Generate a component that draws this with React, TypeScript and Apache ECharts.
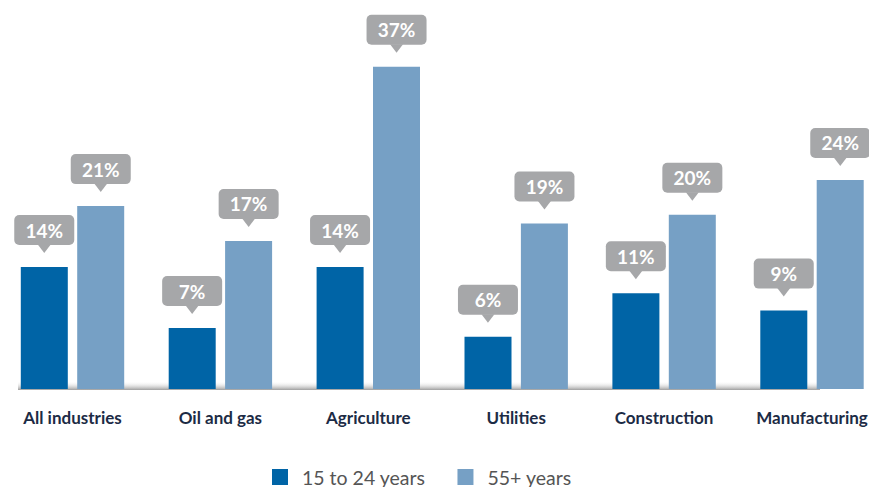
import React, { useEffect, useRef } from "react";
import * as echarts from "echarts";

const categories = ["All industries", "Oil and gas", "Agriculture", "Utilities", "Construction", "Manufacturing"];
const youngValues = [14, 7, 14, 6, 11, 9];
const olderValues = [21, 17, 37, 19, 20, 24];
const seriesNames = ["15 to 24 years", "55+ years"];

const DARK = "#0064A6";
const LIGHT = "#76A0C5";
const BUBBLE = "#A6A7A9";
const BAR_W = 47;
const OFFSET = 28.25;

function bubbleRenderer(offset: number) {
  return (params: any, api: any) => {
    const idx = api.value(0);
    const val = api.value(1);
    const p = api.coord([idx, val]);
    const cx = p[0] + offset;
    const tip = p[1] - 14;
    const baseY = tip - 8;
    const rw = 60;
    const rh = 30;
    return {
      type: "group",
      children: [
        {
          type: "rect",
          shape: { x: cx - rw / 2, y: baseY - rh, width: rw, height: rh, r: 5 },
          style: { fill: BUBBLE },
        },
        {
          type: "polygon",
          shape: { points: [[cx - 6.5, baseY - 0.5], [cx + 6.5, baseY - 0.5], [cx, tip]] },
          style: { fill: BUBBLE },
        },
        {
          type: "text",
          style: {
            text: val + "%",
            x: cx,
            y: baseY - rh / 2,
            align: "center",
            verticalAlign: "middle",
            fill: "#ffffff",
            font: "bold 19px Lato",
          },
        },
      ],
    };
  };
}

export default function App() {
  const ref = useRef<HTMLDivElement>(null);
  useEffect(() => {
    if (!ref.current) return;
    const chart = echarts.init(ref.current, null, { renderer: "svg" });
    chart.setOption({
      animation: false,
      grid: {
        left: -1.45,
        width: 887.4,
        top: 40.6,
        height: 348.4,
        containLabel: false,
        outerBoundsMode: "none",
      },
      legend: {
        data: seriesNames,
        left: 272,
        top: 467,
        padding: 0,
        icon: "rect",
        itemWidth: 16,
        itemHeight: 16,
        itemGap: 32,
        textStyle: { fontFamily: "Lato", fontSize: 19.5, color: "#555555", padding: [0, 0, 0, 9] },
      },
      xAxis: {
        type: "category",
        data: categories,
        axisLine: { show: false },
        axisTick: { show: false },
        axisLabel: {
          interval: 0,
          margin: 20,
          fontFamily: "Lato",
          fontWeight: "bold",
          fontSize: 17,
          color: "#1C2B45",
        },
      },
      yAxis: { type: "value", min: 0, max: 40, show: false, splitLine: { show: false } },
      graphic: [
        {
          type: "rect",
          z: -1,
          silent: true,
          shape: { x: 18, y: 381, width: 802, height: 9 },
          style: {
            fill: new echarts.graphic.LinearGradient(0, 0, 0, 1, [
              { offset: 0, color: "rgba(255,255,255,0)" },
              { offset: 1, color: "#9E9E9E" },
            ]),
          },
        },
      ],
      series: [
        {
          name: seriesNames[0],
          type: "bar",
          data: youngValues,
          barWidth: BAR_W,
          barGap: "20%",
          itemStyle: { color: DARK },
        },
        {
          name: seriesNames[1],
          type: "bar",
          data: olderValues,
          barWidth: BAR_W,
          barGap: "20%",
          itemStyle: { color: LIGHT },
        },
        {
          type: "custom",
          renderItem: bubbleRenderer(-OFFSET),
          data: youngValues.map((v, i) => [i, v]),
          encode: { x: 0, y: 1 },
          z: 5,
          silent: true,
        },
        {
          type: "custom",
          renderItem: bubbleRenderer(OFFSET),
          data: olderValues.map((v, i) => [i, v]),
          encode: { x: 0, y: 1 },
          z: 5,
          silent: true,
        },
      ],
    });
    return () => chart.dispose();
  }, []);
  return <div ref={ref} style={{ width: 869, height: 487, position: "absolute", left: 0, top: 0 }} />;
}
